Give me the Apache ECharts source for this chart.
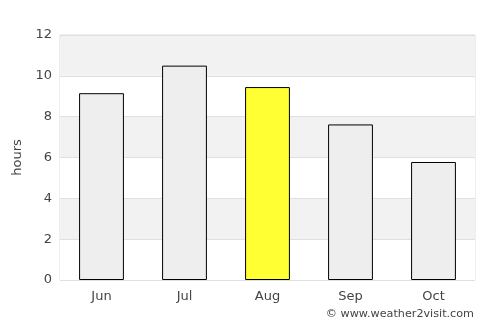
<!DOCTYPE html>
<html><head><meta charset="utf-8">
<script src="https://cdn.jsdelivr.net/npm/echarts@6/dist/echarts.min.js"></script>
<style>html,body{margin:0;padding:0;background:#fff}#c{width:500px;height:325px}</style>
</head><body><div id="c"></div>
<script>
const categories = ['Jun','Jul','Aug','Sep','Oct'];
const values = [9.15, 10.5, 9.45, 7.62, 5.78];
const highlight = 'Aug';
const yTicks = [0,2,4,6,8,10,12];

const chart = echarts.init(document.getElementById('c'), null, {renderer:'canvas'});
const font = 'DejaVu Sans';
chart.setOption({
  animation:false,
  grid:{left:60,right:25,top:35,bottom:45,show:true,borderColor:'#dddddd',borderWidth:1,backgroundColor:'transparent'},
  xAxis:{type:'category',data:categories,
    axisLine:{show:false},axisTick:{show:false},
    axisLabel:{color:'#444',fontFamily:font,fontSize:13,margin:10}},
  yAxis:{type:'value',min:0,max:12,interval:2,
    name:'hours',nameLocation:'middle',nameGap:34,nameRotate:90,
    nameTextStyle:{color:'#444',fontFamily:font,fontSize:13},
    axisLine:{show:false},axisTick:{show:false},
    axisLabel:{color:'#444',fontFamily:font,fontSize:13,margin:8,
      formatter:v=>yTicks.includes(v)?String(v):''},
    splitLine:{show:true,lineStyle:{color:'#e0e0e0',width:1}},
    splitArea:{show:true,areaStyle:{color:['#ffffff','#f2f2f2']}}},
  series:[{type:'bar',barWidth:'54%',
    data:values.map((v,i)=>({value:v,itemStyle:{color:categories[i]===highlight?'#ffff33':'#eeeeee'}})),
    itemStyle:{borderColor:'#000',borderWidth:1}}],
  graphic:[{type:'text',right:26,bottom:5,style:{text:'© www.weather2visit.com',fill:'#444',font:'11.2px "DejaVu Sans"'}}]
});
</script></body></html>
